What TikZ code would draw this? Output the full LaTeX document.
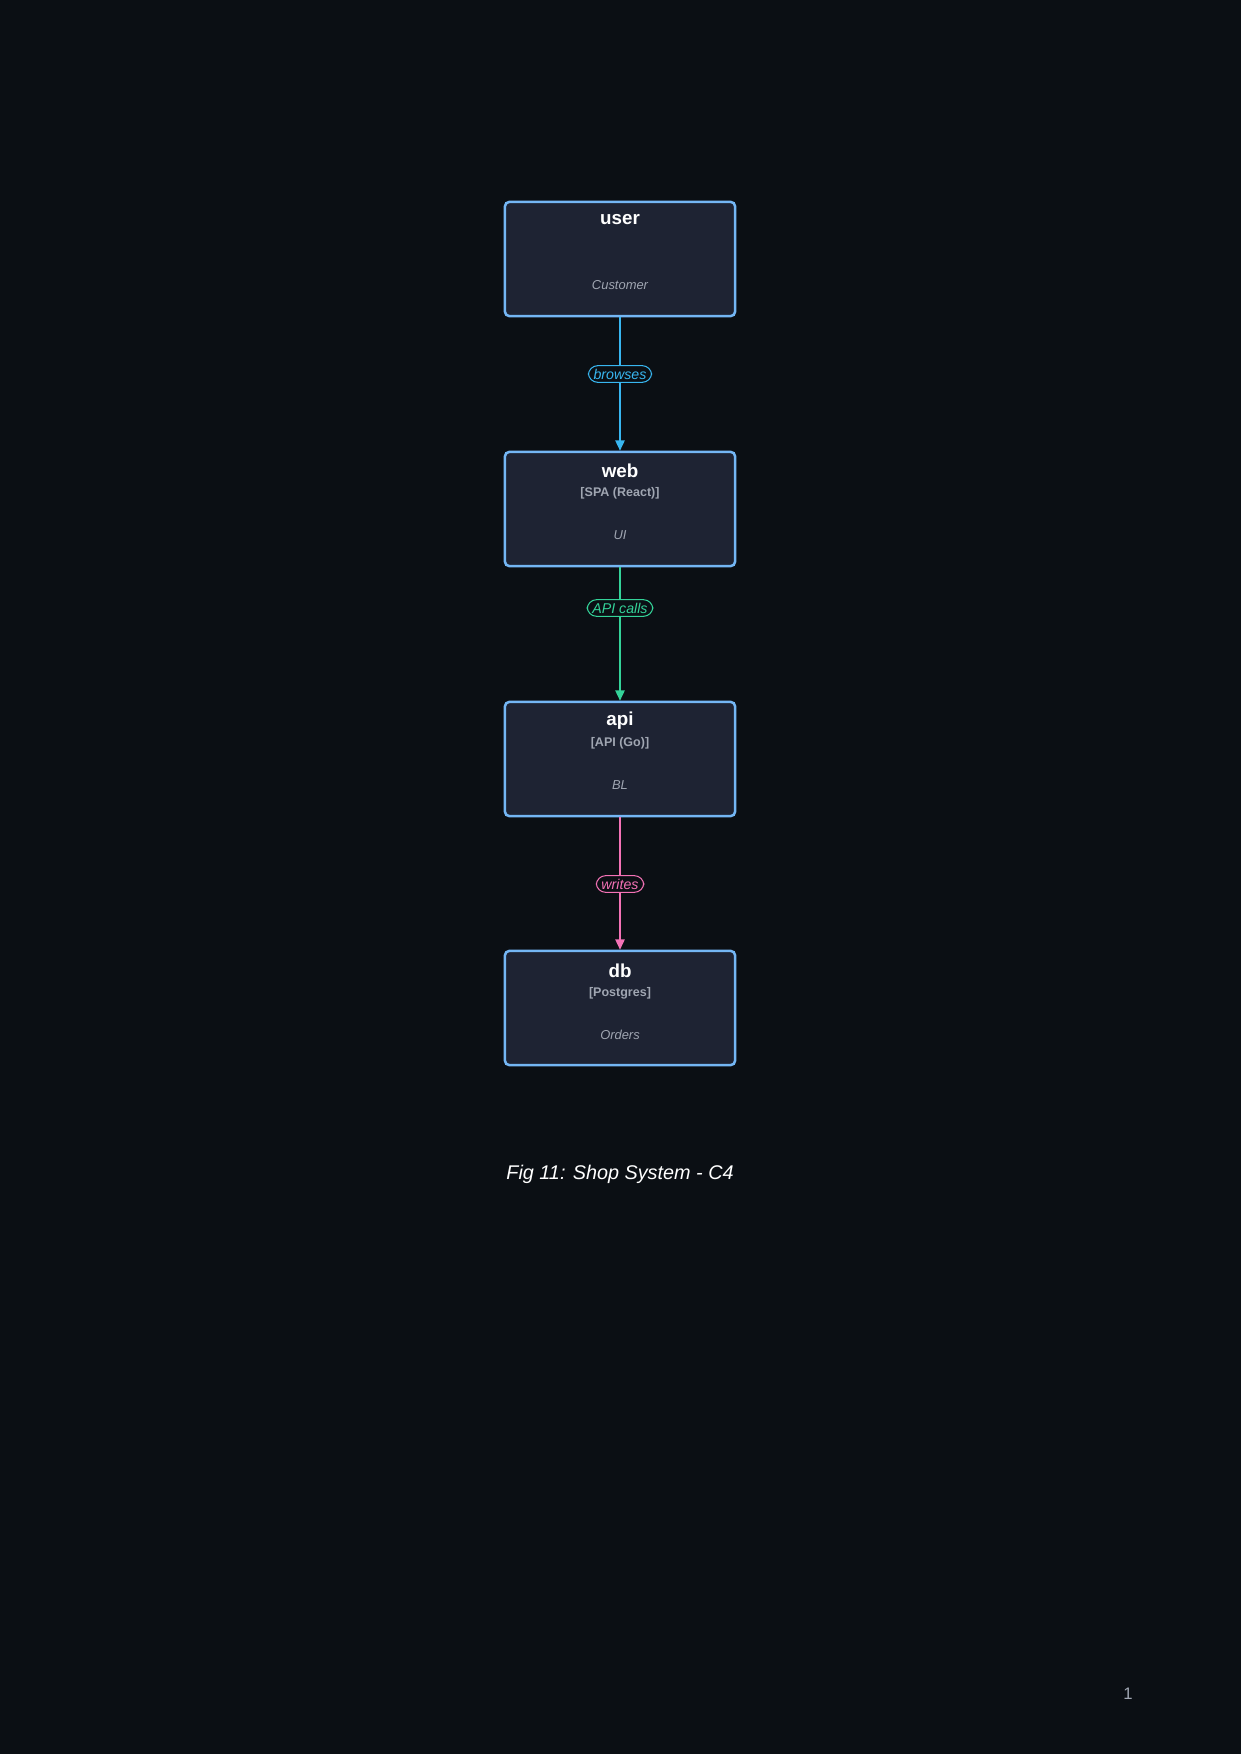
\documentclass[tikz,border=0pt]{standalone}
\usepackage{fontspec}
\setmainfont{Liberation Sans}
\usetikzlibrary{arrows.meta,positioning}
\definecolor{bgcol}{HTML}{0B0F14}
\definecolor{boxfill}{HTML}{1E2333}
\definecolor{boxline}{HTML}{74B6F4}
\definecolor{subtext}{HTML}{A0A6B2}
\definecolor{browsecol}{HTML}{38B6F0}
\definecolor{callcol}{HTML}{34D399}
\definecolor{writecol}{HTML}{F472B6}
\begin{document}
\begin{tikzpicture}[x=0.4795pt,y=-0.4795pt,
    every node/.style={align=center},
    sysbox/.style={draw=boxline, fill=boxfill, line width=1.2pt, rounded corners=2pt, minimum width=110.3pt, minimum height=54.7pt},
    titletext/.style={text=white, font=\bfseries\fontsize{9}{10}\selectfont},
    techtext/.style={text=subtext, font=\bfseries\fontsize{6}{7}\selectfont},
    desctext/.style={text=subtext, font=\itshape\fontsize{6.2}{7}\selectfont},
    rel/.style={line width=0.8pt, -{Triangle[length=5pt,width=4.5pt]}},
    rellabel/.style={draw, fill=bgcol, rounded corners=4.5pt, line width=0.5pt, inner xsep=2.5pt, inner ysep=1.5pt, font=\itshape\fontsize{6.8}{7}\selectfont}
  ]
  \fill[bgcol] (0,0) rectangle (1241,1754);

  % boxes
  \node[sysbox] (user) at (620,259) {};
  \node[sysbox] (web) at (620,509) {};
  \node[sysbox] (api) at (620,759) {};
  \node[sysbox] (db) at (620,1008) {};

  \node[titletext] (userT) at (620,220) {user};
  \node[desctext] (userD) at (620,285) {Customer};
  \node[titletext] (webT) at (620,471) {web};
  \node[techtext] (webS) at (620,493) {[SPA (React)]};
  \node[desctext] (webD) at (620,535) {UI};
  \node[titletext] (apiT) at (620,721) {api};
  \node[techtext] (apiS) at (620,743) {[API (Go)]};
  \node[desctext] (apiD) at (620,785) {BL};
  \node[titletext] (dbT) at (620,971) {db};
  \node[techtext] (dbS) at (620,993) {[Postgres]};
  \node[desctext] (dbD) at (620,1035) {Orders};

  % relations
  \draw[rel, browsecol] (user) -- (web);
  \draw[rel, callcol] (web) -- (api);
  \draw[rel, writecol] (api) -- (db);
  \node[rellabel, draw=browsecol, text=browsecol] (browses) at (620,374) {browses};
  \node[rellabel, draw=callcol, text=callcol] (calls) at (620,608) {API calls};
  \node[rellabel, draw=writecol, text=writecol] (writes) at (620,884) {writes};

  \node[text=white, font=\itshape\fontsize{9.5}{11}\selectfont] (caption) at (620,1174) {Fig 11: Shop System - C4};
  \node[text=subtext, font=\fontsize{8}{9}\selectfont] (page) at (1128,1694) {1};
\end{tikzpicture}
\end{document}
